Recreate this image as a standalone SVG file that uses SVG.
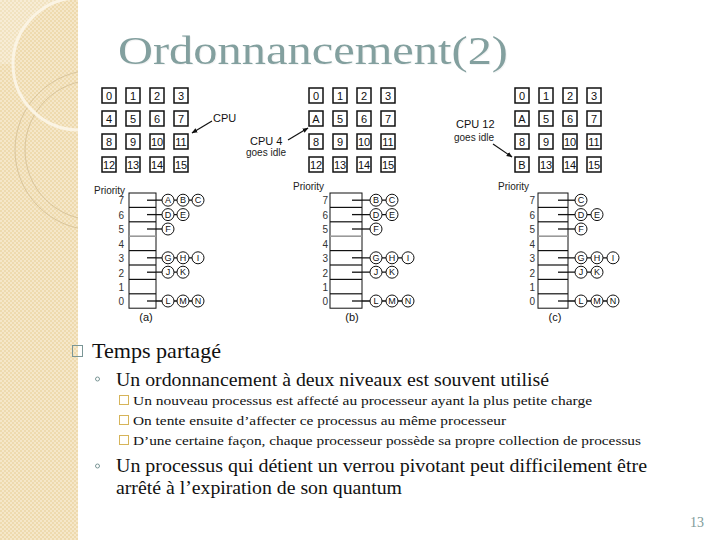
<svg xmlns="http://www.w3.org/2000/svg" width="720" height="540" viewBox="0 0 720 540">
<style>
.box{fill:#fff;stroke:#111;stroke-width:1.5}
.num{font-family:"Liberation Sans",Arial,sans-serif;font-size:11px;fill:#111;text-anchor:middle}
.lbl{font-family:"Liberation Sans",Arial,sans-serif;font-size:11px;fill:#111}
.sm{font-family:"Liberation Sans",Arial,sans-serif;font-size:10px;fill:#222}
.pri{font-family:"Liberation Sans",Arial,sans-serif;font-size:10px;fill:#333;text-anchor:end}
.slot{fill:#fff;stroke:#111;stroke-width:1}
.sep{stroke:#111;stroke-width:1.2}
.gsep{stroke:#999;stroke-width:1.6}
.link{stroke:#111;stroke-width:1.3;fill:none}
.p{fill:#fff;stroke:#111;stroke-width:1}
.pl{font-family:"Liberation Sans",Arial,sans-serif;font-size:9px;fill:#111;text-anchor:middle}
.arrow{stroke:#111;stroke-width:1.2;fill:none;marker-end:url(#ah)}
.body{font-family:"Liberation Serif","Times New Roman",serif;fill:#111}
.b1{stroke:#7A9696;stroke-width:1;fill:none}
.b3{stroke:#D6B45A;stroke-width:1;fill:#fff}
</style>
<defs>
<pattern id="tex" width="4" height="4" patternUnits="userSpaceOnUse">
<rect width="4" height="4" fill="#EEDAAE"/>
<rect width="2" height="2" fill="#F5E7C9"/>
<rect x="2" y="2" width="2" height="2" fill="#F5E7C9"/>
</pattern>
<clipPath id="band"><rect x="0" y="0" width="78" height="540"/></clipPath>
<marker id="ah" viewBox="0 0 10 10" refX="9" refY="5" markerWidth="6" markerHeight="6" orient="auto" markerUnits="userSpaceOnUse">
<path d="M0,1 L10,5 L0,9 Z" fill="#111"/>
</marker>
<filter id="sh" x="-5%" y="-20%" width="110%" height="140%">
<feOffset dx="1.2" dy="1.2" in="SourceAlpha" result="o"/>
<feColorMatrix in="o" type="matrix" values="0 0 0 0 0.85 0 0 0 0 0.87 0 0 0 0 0.87 0 0 0 0.7 0" result="c"/>
<feMerge><feMergeNode in="c"/><feMergeNode in="SourceGraphic"/></feMerge>
</filter>
</defs>

<rect width="720" height="540" fill="#fff"/>
<g id="band-deco" clip-path="url(#band)">
<rect x="0" y="0" width="78" height="540" fill="url(#tex)"/>
<path d="M0,0 H63 A66,66 0 0,0 13,64 L0,64 Z" fill="#fff" opacity="0.22"/>
<circle cx="95" cy="150" r="80" fill="none" stroke="#D9C59C" stroke-width="1"/>
<circle cx="95" cy="150" r="70" fill="none" stroke="#D9C59C" stroke-width="1"/>
<circle cx="79" cy="64" r="66" fill="none" stroke="#FBF4E4" stroke-width="3"/>
</g>

<g id="title">
<text x="118" y="64" font-family="Liberation Serif,'Times New Roman',serif" font-size="41" fill="#83A09F" textLength="390" lengthAdjust="spacingAndGlyphs" filter="url(#sh)">Ordonnancement(2)</text>
</g>

<!-- Grid (a) -->
<g id="grid-a">
<rect class="box" x="102" y="88" width="14" height="15"/><text class="num" x="109" y="99.5">0</text>
<rect class="box" x="126" y="88" width="14" height="15"/><text class="num" x="133" y="99.5">1</text>
<rect class="box" x="150" y="88" width="14" height="15"/><text class="num" x="157" y="99.5">2</text>
<rect class="box" x="174" y="88" width="14" height="15"/><text class="num" x="181" y="99.5">3</text>
<rect class="box" x="102" y="111" width="14" height="15"/><text class="num" x="109" y="122.5">4</text>
<rect class="box" x="126" y="111" width="14" height="15"/><text class="num" x="133" y="122.5">5</text>
<rect class="box" x="150" y="111" width="14" height="15"/><text class="num" x="157" y="122.5">6</text>
<rect class="box" x="174" y="111" width="14" height="15"/><text class="num" x="181" y="122.5">7</text>
<rect class="box" x="102" y="134" width="14" height="15"/><text class="num" x="109" y="145.5">8</text>
<rect class="box" x="126" y="134" width="14" height="15"/><text class="num" x="133" y="145.5">9</text>
<rect class="box" x="150" y="134" width="14" height="15"/><text class="num" x="157" y="145.5">10</text>
<rect class="box" x="174" y="134" width="14" height="15"/><text class="num" x="181" y="145.5">11</text>
<rect class="box" x="102" y="157" width="14" height="15"/><text class="num" x="109" y="168.5">12</text>
<rect class="box" x="126" y="157" width="14" height="15"/><text class="num" x="133" y="168.5">13</text>
<rect class="box" x="150" y="157" width="14" height="15"/><text class="num" x="157" y="168.5">14</text>
<rect class="box" x="174" y="157" width="14" height="15"/><text class="num" x="181" y="168.5">15</text>
<text class="lbl" x="213" y="122">CPU</text>
</g>

<!-- Grid (b) -->
<g id="grid-b">
<rect class="box" x="309" y="88" width="14" height="15"/><text class="num" x="316" y="99.5">0</text>
<rect class="box" x="333" y="88" width="14" height="15"/><text class="num" x="340" y="99.5">1</text>
<rect class="box" x="357" y="88" width="14" height="15"/><text class="num" x="364" y="99.5">2</text>
<rect class="box" x="381" y="88" width="14" height="15"/><text class="num" x="388" y="99.5">3</text>
<rect class="box" x="309" y="111" width="14" height="15"/><text class="num" x="316" y="122.5">A</text>
<rect class="box" x="333" y="111" width="14" height="15"/><text class="num" x="340" y="122.5">5</text>
<rect class="box" x="357" y="111" width="14" height="15"/><text class="num" x="364" y="122.5">6</text>
<rect class="box" x="381" y="111" width="14" height="15"/><text class="num" x="388" y="122.5">7</text>
<rect class="box" x="309" y="134" width="14" height="15"/><text class="num" x="316" y="145.5">8</text>
<rect class="box" x="333" y="134" width="14" height="15"/><text class="num" x="340" y="145.5">9</text>
<rect class="box" x="357" y="134" width="14" height="15"/><text class="num" x="364" y="145.5">10</text>
<rect class="box" x="381" y="134" width="14" height="15"/><text class="num" x="388" y="145.5">11</text>
<rect class="box" x="309" y="157" width="14" height="15"/><text class="num" x="316" y="168.5">12</text>
<rect class="box" x="333" y="157" width="14" height="15"/><text class="num" x="340" y="168.5">13</text>
<rect class="box" x="357" y="157" width="14" height="15"/><text class="num" x="364" y="168.5">14</text>
<rect class="box" x="381" y="157" width="14" height="15"/><text class="num" x="388" y="168.5">15</text>
<text class="lbl" x="250" y="145">CPU 4</text>
<text class="sm" x="246" y="156">goes idle</text>
</g>

<!-- Grid (c) -->
<g id="grid-c">
<rect class="box" x="515" y="88" width="14" height="15"/><text class="num" x="522" y="99.5">0</text>
<rect class="box" x="539" y="88" width="14" height="15"/><text class="num" x="546" y="99.5">1</text>
<rect class="box" x="563" y="88" width="14" height="15"/><text class="num" x="570" y="99.5">2</text>
<rect class="box" x="587" y="88" width="14" height="15"/><text class="num" x="594" y="99.5">3</text>
<rect class="box" x="515" y="111" width="14" height="15"/><text class="num" x="522" y="122.5">A</text>
<rect class="box" x="539" y="111" width="14" height="15"/><text class="num" x="546" y="122.5">5</text>
<rect class="box" x="563" y="111" width="14" height="15"/><text class="num" x="570" y="122.5">6</text>
<rect class="box" x="587" y="111" width="14" height="15"/><text class="num" x="594" y="122.5">7</text>
<rect class="box" x="515" y="134" width="14" height="15"/><text class="num" x="522" y="145.5">8</text>
<rect class="box" x="539" y="134" width="14" height="15"/><text class="num" x="546" y="145.5">9</text>
<rect class="box" x="563" y="134" width="14" height="15"/><text class="num" x="570" y="145.5">10</text>
<rect class="box" x="587" y="134" width="14" height="15"/><text class="num" x="594" y="145.5">11</text>
<rect class="box" x="515" y="157" width="14" height="15"/><text class="num" x="522" y="168.5">B</text>
<rect class="box" x="539" y="157" width="14" height="15"/><text class="num" x="546" y="168.5">13</text>
<rect class="box" x="563" y="157" width="14" height="15"/><text class="num" x="570" y="168.5">14</text>
<rect class="box" x="587" y="157" width="14" height="15"/><text class="num" x="594" y="168.5">15</text>
<text class="lbl" x="456" y="128">CPU 12</text>
<text class="sm" x="454" y="141">goes idle</text>
</g>

<g id="connectors">
<line class="arrow" x1="212" y1="121" x2="192" y2="133"/>
<line class="arrow" x1="288" y1="140" x2="308" y2="128"/>
<line class="arrow" x1="493" y1="144" x2="512" y2="157"/>
<line class="link" x1="147" y1="200.2" x2="198" y2="200.2"/>
<line class="link" x1="147" y1="214.6" x2="183" y2="214.6"/>
<line class="link" x1="147" y1="229" x2="168" y2="229"/>
<line class="link" x1="147" y1="257.8" x2="198" y2="257.8"/>
<line class="link" x1="147" y1="272.2" x2="183" y2="272.2"/>
<line class="link" x1="147" y1="301" x2="198" y2="301"/>
<line class="link" x1="352" y1="200.2" x2="392" y2="200.2"/>
<line class="link" x1="352" y1="214.6" x2="392" y2="214.6"/>
<line class="link" x1="352" y1="229" x2="376" y2="229"/>
<line class="link" x1="352" y1="257.8" x2="408" y2="257.8"/>
<line class="link" x1="352" y1="272.2" x2="392" y2="272.2"/>
<line class="link" x1="352" y1="301" x2="408" y2="301"/>
<line class="link" x1="558" y1="200.2" x2="581" y2="200.2"/>
<line class="link" x1="558" y1="214.6" x2="597" y2="214.6"/>
<line class="link" x1="558" y1="229" x2="581" y2="229"/>
<line class="link" x1="558" y1="257.8" x2="613" y2="257.8"/>
<line class="link" x1="558" y1="272.2" x2="597" y2="272.2"/>
<line class="link" x1="558" y1="301" x2="613" y2="301"/>
</g>

<!-- Queue (a) -->
<g id="queue-a">
<text class="sm" x="94" y="194">Priority</text>
<rect class="slot" x="129" y="193" width="27" height="115.2"/>
<line class="sep" x1="129" y1="207.4" x2="156" y2="207.4"/>
<line class="sep" x1="129" y1="221.8" x2="156" y2="221.8"/>
<line class="gsep" x1="129" y1="236.2" x2="156" y2="236.2"/>
<line class="sep" x1="129" y1="250.6" x2="156" y2="250.6"/>
<line class="sep" x1="129" y1="265" x2="156" y2="265"/>
<line class="sep" x1="129" y1="279.4" x2="156" y2="279.4"/>
<line class="sep" x1="129" y1="293.8" x2="156" y2="293.8"/>
<line class="link" x1="147" y1="200.2" x2="156" y2="200.2"/>
<line class="link" x1="147" y1="214.6" x2="156" y2="214.6"/>
<line class="link" x1="147" y1="229" x2="156" y2="229"/>
<line class="link" x1="147" y1="257.8" x2="156" y2="257.8"/>
<line class="link" x1="147" y1="272.2" x2="156" y2="272.2"/>
<line class="link" x1="147" y1="301" x2="156" y2="301"/>
<text class="pri" x="124" y="204">7</text><text class="pri" x="124" y="218.5">6</text><text class="pri" x="124" y="233">5</text><text class="pri" x="124" y="247.5">4</text>
<text class="pri" x="124" y="262">3</text><text class="pri" x="124" y="276.5">2</text><text class="pri" x="124" y="291">1</text><text class="pri" x="124" y="305">0</text>
<circle class="p" cx="168" cy="200.2" r="6"/><text class="pl" x="168" y="203.4">A</text>
<circle class="p" cx="183" cy="200.2" r="6"/><text class="pl" x="183" y="203.4">B</text>
<circle class="p" cx="198" cy="200.2" r="6"/><text class="pl" x="198" y="203.4">C</text>
<circle class="p" cx="168" cy="214.6" r="6"/><text class="pl" x="168" y="217.8">D</text>
<circle class="p" cx="183" cy="214.6" r="6"/><text class="pl" x="183" y="217.8">E</text>
<circle class="p" cx="168" cy="229" r="6"/><text class="pl" x="168" y="232.2">F</text>
<circle class="p" cx="168" cy="257.8" r="6"/><text class="pl" x="168" y="261">G</text>
<circle class="p" cx="183" cy="257.8" r="6"/><text class="pl" x="183" y="261">H</text>
<circle class="p" cx="198" cy="257.8" r="6"/><text class="pl" x="198" y="261">I</text>
<circle class="p" cx="168" cy="272.2" r="6"/><text class="pl" x="168" y="275.4">J</text>
<circle class="p" cx="183" cy="272.2" r="6"/><text class="pl" x="183" y="275.4">K</text>
<circle class="p" cx="168" cy="301" r="6"/><text class="pl" x="168" y="304.2">L</text>
<circle class="p" cx="183" cy="301" r="6"/><text class="pl" x="183" y="304.2">M</text>
<circle class="p" cx="198" cy="301" r="6"/><text class="pl" x="198" y="304.2">N</text>
<text class="lbl" x="146" y="321" text-anchor="middle">(a)</text>
</g>

<!-- Queue (b) -->
<g id="queue-b">
<text class="sm" x="293" y="190">Priority</text>
<rect class="slot" x="330" y="193" width="32" height="115.2"/>
<line class="sep" x1="330" y1="207.4" x2="362" y2="207.4"/>
<line class="sep" x1="330" y1="221.8" x2="362" y2="221.8"/>
<line class="gsep" x1="330" y1="236.2" x2="362" y2="236.2"/>
<line class="sep" x1="330" y1="250.6" x2="362" y2="250.6"/>
<line class="sep" x1="330" y1="265" x2="362" y2="265"/>
<line class="sep" x1="330" y1="279.4" x2="362" y2="279.4"/>
<line class="sep" x1="330" y1="293.8" x2="362" y2="293.8"/>
<line class="link" x1="352" y1="200.2" x2="362" y2="200.2"/>
<line class="link" x1="352" y1="214.6" x2="362" y2="214.6"/>
<line class="link" x1="352" y1="229" x2="362" y2="229"/>
<line class="link" x1="352" y1="257.8" x2="362" y2="257.8"/>
<line class="link" x1="352" y1="272.2" x2="362" y2="272.2"/>
<line class="link" x1="352" y1="301" x2="362" y2="301"/>
<text class="pri" x="328" y="204">7</text><text class="pri" x="328" y="218.5">6</text><text class="pri" x="328" y="233">5</text><text class="pri" x="328" y="247.5">4</text>
<text class="pri" x="328" y="262">3</text><text class="pri" x="328" y="276.5">2</text><text class="pri" x="328" y="291">1</text><text class="pri" x="328" y="305">0</text>
<circle class="p" cx="376" cy="200.2" r="6"/><text class="pl" x="376" y="203.4">B</text>
<circle class="p" cx="392" cy="200.2" r="6"/><text class="pl" x="392" y="203.4">C</text>
<circle class="p" cx="376" cy="214.6" r="6"/><text class="pl" x="376" y="217.8">D</text>
<circle class="p" cx="392" cy="214.6" r="6"/><text class="pl" x="392" y="217.8">E</text>
<circle class="p" cx="376" cy="229" r="6"/><text class="pl" x="376" y="232.2">F</text>
<circle class="p" cx="376" cy="257.8" r="6"/><text class="pl" x="376" y="261">G</text>
<circle class="p" cx="392" cy="257.8" r="6"/><text class="pl" x="392" y="261">H</text>
<circle class="p" cx="408" cy="257.8" r="6"/><text class="pl" x="408" y="261">I</text>
<circle class="p" cx="376" cy="272.2" r="6"/><text class="pl" x="376" y="275.4">J</text>
<circle class="p" cx="392" cy="272.2" r="6"/><text class="pl" x="392" y="275.4">K</text>
<circle class="p" cx="376" cy="301" r="6"/><text class="pl" x="376" y="304.2">L</text>
<circle class="p" cx="392" cy="301" r="6"/><text class="pl" x="392" y="304.2">M</text>
<circle class="p" cx="408" cy="301" r="6"/><text class="pl" x="408" y="304.2">N</text>
<text class="lbl" x="352" y="321" text-anchor="middle">(b)</text>
</g>

<!-- Queue (c) -->
<g id="queue-c">
<text class="sm" x="498" y="190">Priority</text>
<rect class="slot" x="538" y="193" width="30" height="115.2"/>
<line class="sep" x1="538" y1="207.4" x2="568" y2="207.4"/>
<line class="sep" x1="538" y1="221.8" x2="568" y2="221.8"/>
<line class="gsep" x1="538" y1="236.2" x2="568" y2="236.2"/>
<line class="sep" x1="538" y1="250.6" x2="568" y2="250.6"/>
<line class="sep" x1="538" y1="265" x2="568" y2="265"/>
<line class="sep" x1="538" y1="279.4" x2="568" y2="279.4"/>
<line class="sep" x1="538" y1="293.8" x2="568" y2="293.8"/>
<line class="link" x1="558" y1="200.2" x2="568" y2="200.2"/>
<line class="link" x1="558" y1="214.6" x2="568" y2="214.6"/>
<line class="link" x1="558" y1="229" x2="568" y2="229"/>
<line class="link" x1="558" y1="257.8" x2="568" y2="257.8"/>
<line class="link" x1="558" y1="272.2" x2="568" y2="272.2"/>
<line class="link" x1="558" y1="301" x2="568" y2="301"/>
<text class="pri" x="535" y="204">7</text><text class="pri" x="535" y="218.5">6</text><text class="pri" x="535" y="233">5</text><text class="pri" x="535" y="247.5">4</text>
<text class="pri" x="535" y="262">3</text><text class="pri" x="535" y="276.5">2</text><text class="pri" x="535" y="291">1</text><text class="pri" x="535" y="305">0</text>
<circle class="p" cx="581" cy="200.2" r="6"/><text class="pl" x="581" y="203.4">C</text>
<circle class="p" cx="581" cy="214.6" r="6"/><text class="pl" x="581" y="217.8">D</text>
<circle class="p" cx="597" cy="214.6" r="6"/><text class="pl" x="597" y="217.8">E</text>
<circle class="p" cx="581" cy="229" r="6"/><text class="pl" x="581" y="232.2">F</text>
<circle class="p" cx="581" cy="257.8" r="6"/><text class="pl" x="581" y="261">G</text>
<circle class="p" cx="597" cy="257.8" r="6"/><text class="pl" x="597" y="261">H</text>
<circle class="p" cx="613" cy="257.8" r="6"/><text class="pl" x="613" y="261">I</text>
<circle class="p" cx="581" cy="272.2" r="6"/><text class="pl" x="581" y="275.4">J</text>
<circle class="p" cx="597" cy="272.2" r="6"/><text class="pl" x="597" y="275.4">K</text>
<circle class="p" cx="581" cy="301" r="6"/><text class="pl" x="581" y="304.2">L</text>
<circle class="p" cx="597" cy="301" r="6"/><text class="pl" x="597" y="304.2">M</text>
<circle class="p" cx="613" cy="301" r="6"/><text class="pl" x="613" y="304.2">N</text>
<text class="lbl" x="555" y="321" text-anchor="middle">(c)</text>
</g>

<g id="bullets">
<rect class="b1" x="72.5" y="345.5" width="10" height="11"/>
<text class="body" x="92" y="358" font-size="21" textLength="129" lengthAdjust="spacingAndGlyphs">Temps partagé</text>
<circle class="b1" cx="97.5" cy="379" r="2"/>
<text class="body" x="116" y="386" font-size="18" textLength="433" lengthAdjust="spacingAndGlyphs">Un ordonnancement à deux niveaux est souvent utilisé</text>
<rect class="b3" x="119.5" y="395.5" width="9" height="9"/>
<text class="body" x="133" y="405" font-size="13.5" textLength="459" lengthAdjust="spacingAndGlyphs">Un nouveau processus est affecté au processeur ayant la plus petite charge</text>
<rect class="b3" x="119.5" y="415.5" width="9" height="9"/>
<text class="body" x="133" y="425" font-size="13.5" textLength="373" lengthAdjust="spacingAndGlyphs">On tente ensuite d’affecter ce processus au même processeur</text>
<rect class="b3" x="119.5" y="435.5" width="9" height="9"/>
<text class="body" x="133" y="445" font-size="13.5" textLength="508" lengthAdjust="spacingAndGlyphs">D’une certaine façon, chaque processeur possède sa propre collection de processus</text>
<circle class="b1" cx="97.5" cy="466" r="2"/>
<text class="body" x="116" y="472" font-size="18" textLength="531" lengthAdjust="spacingAndGlyphs">Un processus qui détient un verrou pivotant  peut difficilement être</text>
<text class="body" x="116" y="494" font-size="18" textLength="286" lengthAdjust="spacingAndGlyphs">arrêté à l’expiration de son quantum</text>
<text x="704" y="527" font-family="Liberation Serif,'Times New Roman',serif" font-size="14" fill="#7E9B9A" text-anchor="end">13</text>
</g>
</svg>
